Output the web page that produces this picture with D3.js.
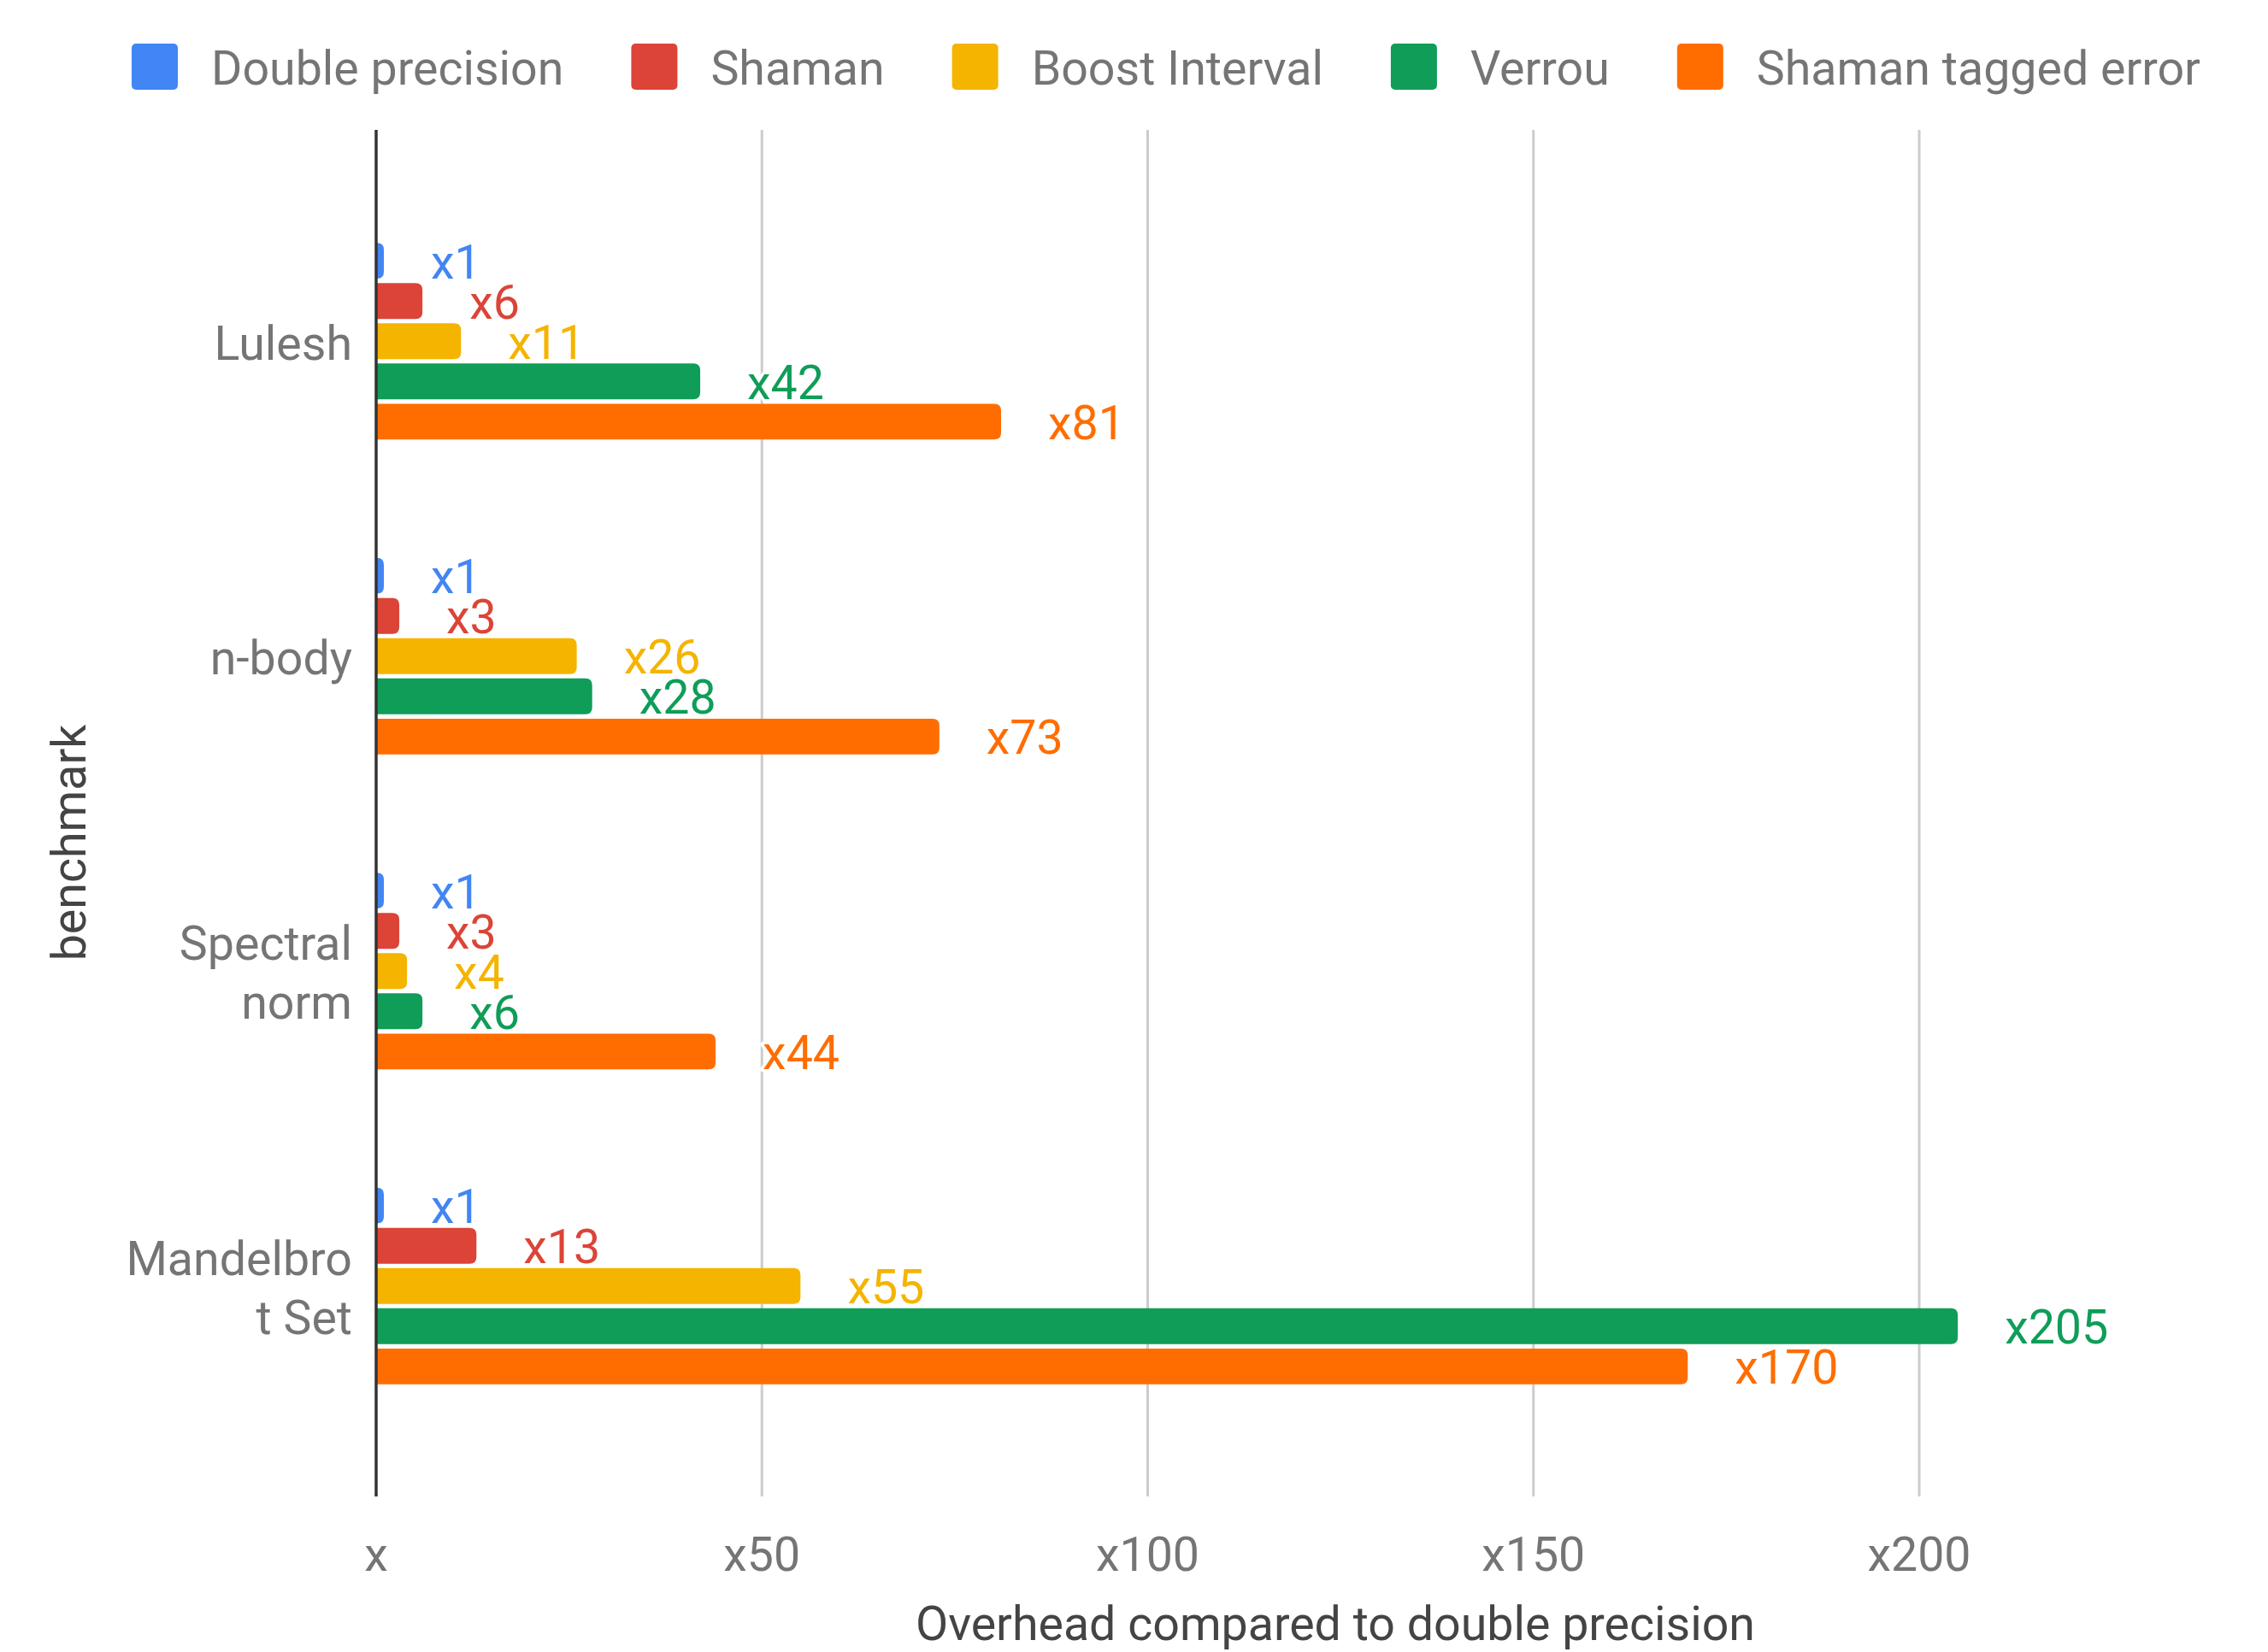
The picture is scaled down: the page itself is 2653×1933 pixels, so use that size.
<!DOCTYPE html>
<html><head><meta charset="utf-8">
<script src="https://cdn.jsdelivr.net/npm/d3@7"></script>
<style>body{margin:0;background:#fff;} svg{display:block;font-family:Roboto,"Noto Sans",sans-serif;}</style>
</head><body>
<svg id="chart" width="2653" height="1933"></svg>
<script>
const categories = ["Lulesh","n-body","Spectral norm","Mandelbrot Set"];
const categoryLines = [["Lulesh"],["n-body"],["Spectral","norm"],["Mandelbro","t Set"]];
const seriesNames = ["Double precision","Shaman","Boost Interval","Verrou","Shaman tagged error"];
const seriesColors = ["#4285F4","#DB4437","#F4B400","#0F9D58","#FF6D00"];
const doublePrecision = [1,1,1,1];
const shaman = [6,3,3,13];
const boostInterval = [11,26,4,55];
const verrou = [42,28,6,205];
const shamanTagged = [81,73,44,170];
const seriesValues = [doublePrecision, shaman, boostInterval, verrou, shamanTagged];
const tickValues = [0,50,100,150,200];
const tickLabels = ["x","x50","x100","x150","x200"];
const xTitle = "Overhead compared to double precision";
const yTitle = "benchmark";

const svg = d3.select("#chart");
const fs = 55.5;
const plotTop = 152, plotBottom = 1751;
const x = d3.scaleLinear().domain([0,200]).range([440,2245]);
const y = d3.scaleBand().domain(categories).range([215,1689]);
const inner = d3.scaleBand().domain(seriesNames).range([-115,115]).paddingInner(0.11);

// gridlines
svg.append("g").selectAll("line").data(tickValues.filter(v=>v>0)).join("line")
  .attr("x1",d=>x(d)).attr("x2",d=>x(d)).attr("y1",plotTop).attr("y2",plotBottom)
  .attr("stroke","#cccccc").attr("stroke-width",3);

// tick labels
svg.append("g").selectAll("text").data(tickValues).join("text")
  .attr("x",d=>x(d)).attr("y",1819).attr("text-anchor","middle").attr("dominant-baseline","central")
  .attr("fill","#757575").attr("font-size",fs).text((d,i)=>tickLabels[i]);

// bars
function barPath(x0,x1,y0,h,r){
  r = Math.min(r,(x1-x0),h/2);
  return `M${x0},${y0}H${x1-r}Q${x1},${y0} ${x1},${y0+r}V${y0+h-r}Q${x1},${y0+h} ${x1-r},${y0+h}H${x0}Z`;
}
const bars = [];
categories.forEach((c,ci)=>{
  seriesNames.forEach((s,si)=>{
    bars.push({c, s, si, v: seriesValues[si][ci]});
  });
});
const bg = svg.append("g");
bg.selectAll("path").data(bars).join("path")
  .attr("d",d=>{
    const yc = y(d.c)+y.bandwidth()/2 + inner(d.s);
    return barPath(x(0),x(d.v),yc,inner.bandwidth(),8);
  })
  .attr("fill",d=>seriesColors[d.si]);

// value labels
svg.append("g").selectAll("text").data(bars).join("text")
  .attr("x",d=>x(d.v)+55)
  .attr("y",d=>y(d.c)+y.bandwidth()/2 + inner(d.s) + inner.bandwidth()/2 + 2)
  .attr("dominant-baseline","central")
  .attr("font-size",fs)
  .attr("fill",d=>seriesColors[d.si])
  .attr("stroke","#fff").attr("stroke-width",7).attr("stroke-linejoin","round")
  .attr("paint-order","stroke")
  .text(d=>"x"+d.v);

// axis line
svg.append("line").attr("x1",x(0)).attr("x2",x(0)).attr("y1",plotTop).attr("y2",plotBottom)
  .attr("stroke","#333").attr("stroke-width",3.5);

// category labels
const cg = svg.append("g");
categories.forEach((c,ci)=>{
  const lines = categoryLines[ci];
  const yc = y(c)+y.bandwidth()/2 + 3;
  const lh = 69;
  lines.forEach((ln,li)=>{
    cg.append("text").attr("x",412).attr("y",yc + (li-(lines.length-1)/2)*lh)
      .attr("text-anchor","end").attr("dominant-baseline","central")
      .attr("fill","#757575").attr("font-size",fs).text(ln);
  });
});

// axis titles
svg.append("text").attr("x",1562).attr("y",1900).attr("text-anchor","middle").attr("dominant-baseline","central")
  .attr("fill","#444").attr("font-size",fs).text(xTitle);
svg.append("text").attr("transform","translate(81,986) rotate(-90)").attr("text-anchor","middle")
  .attr("dominant-baseline","central").attr("fill","#444").attr("font-size",fs).text(yTitle);

// legend
const lg = svg.append("g");
let lx = 154;
seriesNames.forEach((s,i)=>{
  lg.append("rect").attr("x",lx).attr("y",51).attr("width",54).attr("height",54).attr("rx",5)
    .attr("fill",seriesColors[i]);
  const t = lg.append("text").attr("x",lx+93).attr("y",80).attr("dominant-baseline","central")
    .attr("fill","#757575").attr("font-size",fs).text(s);
  lx = lx + 93 + t.node().getComputedTextLength() + 79;
});
</script>
</body></html>
